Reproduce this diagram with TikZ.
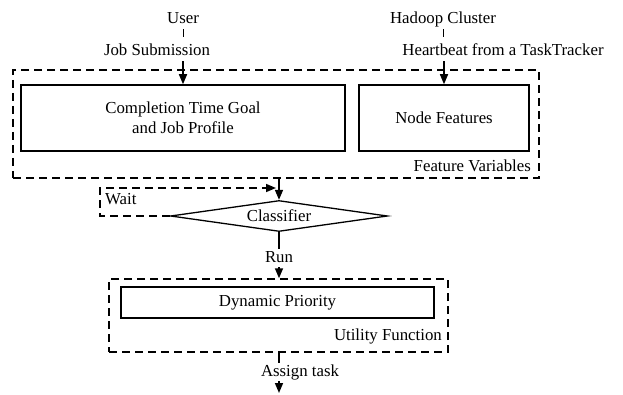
\documentclass[tikz,border=0pt]{standalone}
\usepackage{fontspec}
\setmainfont{Liberation Serif}
\usetikzlibrary{shapes.geometric,arrows.meta,calc}
\begin{document}
\begin{tikzpicture}[x=1pt,y=-1pt,
  font=\fontsize{16.8}{20}\selectfont,
  lw/.style={line width=1.5pt},
  solidbox/.style={draw,lw,rectangle,inner sep=0pt},
  dashbox/.style={draw,lw,dash pattern=on 8pt off 5pt,rectangle,inner sep=0pt},
  dashline/.style={dash pattern=on 8pt off 5pt},
  lbl/.style={inner sep=1pt,text height=12pt,text depth=4pt,anchor=base},
  arr/.style={lw,-{Triangle[length=10pt,width=8pt]}},
  conn/.style={lw},
  tick/.style={line width=0.8pt}]
\useasboundingbox (0,0) rectangle (623,395);
% feature variables group
\node[dashbox,minimum width=526pt,minimum height=108pt] (fv) at (276,124) {};
\node[solidbox,minimum width=324pt,minimum height=66pt,align=center] (ctg) at (183,118) {Completion Time Goal\\and Job Profile};
\node[solidbox,minimum width=170pt,minimum height=66pt] (nf) at (444,118) {Node Features};
\node[lbl,anchor=base east] (fvl) at (532,172) {Feature Variables};
% inputs
\node[lbl] (user) at (183,24) {User};
\node[lbl] (job) at (157,56) {Job Submission};
\node[lbl] (hadoop) at (443,24) {Hadoop Cluster};
\node[lbl] (hb) at (503,56) {Heartbeat from a TaskTracker};
% classifier
\node[draw,line width=1.3pt,diamond,minimum width=217pt,minimum height=31pt,inner sep=0pt,shape aspect=7] (cls) at (279,216) {Classifier};
\node[lbl,anchor=base west] (wait) at (104,205) {Wait};
\node[lbl] (run) at (279,262) {Run};
% utility function group
\node[dashbox,minimum width=339pt,minimum height=73pt] (uf) at (278.5,315.5) {};
\node[solidbox,minimum width=313pt,minimum height=31pt] (dp) at (277.5,302.5) {Dynamic Priority};
\node[lbl,anchor=base east] (ufl) at (443,340) {Utility Function};
\node[lbl] (assign) at (300,376) {Assign task};
\coordinate (end) at (279,393);
\coordinate (wl) at (100,188);
\coordinate (wj) at (279,188);
% connectors
\draw[tick,shorten >=6pt] (user.south) -- (user.south |- job.north);
\draw[arr] (job.south -| ctg.north) -- (ctg.north);
\draw[tick,shorten >=6pt] (hadoop.south) -- (hadoop.south |- hb.north);
\draw[arr] (hb.south -| nf.north) -- (nf.north);
\draw[arr] (fv.south -| cls.north) -- (cls.north);
\draw[arr,dashline,shorten >=3pt] (cls.west) -| (wl) -- (wj);
\draw[conn] (cls.south) -- (run.north);
\draw[arr] (run.south) -- (run.south |- uf.north);
\draw[conn] (uf.south -| cls.south) -- (cls.south |- assign.north);
\draw[arr] (cls.south |- assign.south) -- (end);
\end{tikzpicture}
\end{document}
